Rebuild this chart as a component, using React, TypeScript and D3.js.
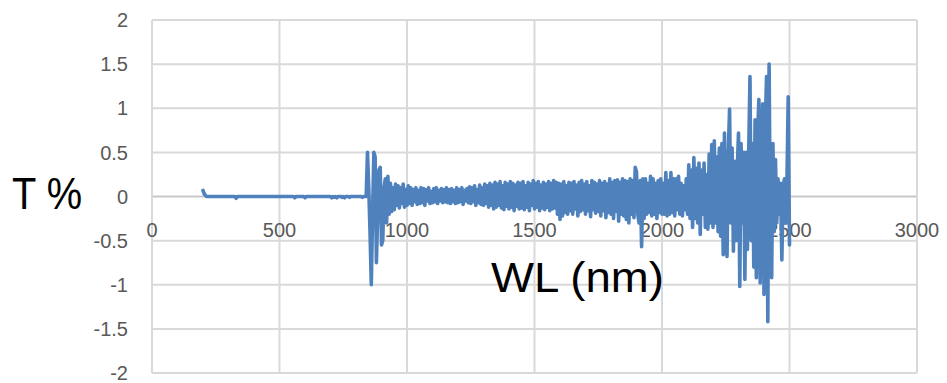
import React from "react";
import * as d3 from "d3";

// Wavelength sampling of the series (nm)
const startWL = 200;
const stepWL = 5;

// T % values, one per 5 nm, from 200 nm to 2500 nm (blocks of 50 nm)
const transmittance: number[] = [
  // 200-245
  0.07, 0.03, 0.01, 0, 0, 0, 0, 0, 0, 0,
  // 250
  0, 0, 0, 0, 0, 0, 0, 0, 0, 0,
  // 300
  0, 0, 0, 0, 0, 0, -0.02, 0, 0, 0,
  // 350
  0, 0, 0, 0, 0, 0, 0, 0, 0, 0,
  // 400
  0, 0, 0, 0, 0, 0, 0, 0, 0, 0,
  // 450
  0, 0, 0, 0, 0, 0, 0, 0, 0, 0,
  // 500
  0, 0, 0, 0, 0, 0, 0, 0, 0, 0,
  // 550
  0, 0, -0.015, 0, 0, 0, 0, 0, 0, 0,
  // 600
  -0.015, 0, 0, 0, 0, 0, 0, 0, 0, 0,
  // 650
  0, 0, 0, 0, 0, 0, 0, 0, 0, 0,
  // 700
  0, -0.015, 0, -0.01, 0, -0.015, 0, 0, 0, -0.01,
  // 750
  0, -0.015, 0, 0, 0, -0.01, 0, 0, 0, 0,
  // 800
  0, 0, 0, 0, 0, -0.01, 0, 0, 0, 0.5,
  // 850
  0.1, -0.4, -1.0, -0.2, 0.5, 0.45, -0.75, -0.2, 0.3, 0.33,
  // 900
  -0.55, -0.5, 0.1, 0.2, -0.3, 0.23, -0.2, 0.15, -0.17, 0.1,
  // 950
  -0.15, 0.14, -0.1, 0.12, -0.13, 0.1, -0.08, 0.14, -0.12, 0.08,
  // 1000
  -0.1, 0.12, -0.08, 0.1, -0.1, 0.08, -0.06, 0.1, -0.09, 0.07,
  // 1050
  -0.08, 0.1, -0.07, 0.09, -0.1, 0.08, -0.05, 0.1, -0.08, 0.06,
  // 1100
  -0.07, 0.09, -0.06, 0.1, -0.08, 0.07, -0.05, 0.09, -0.07, 0.08,
  // 1150
  -0.06, 0.1, -0.07, 0.08, -0.08, 0.09, -0.06, 0.07, -0.08, 0.1,
  // 1200
  -0.07, 0.08, -0.06, 0.1, -0.09, 0.07, -0.05, 0.09, -0.07, 0.11,
  // 1250
  -0.08, 0.1, -0.06, 0.12, -0.1, 0.08, -0.07, 0.13, -0.09, 0.1,
  // 1300
  -0.1, 0.14, -0.08, 0.12, -0.12, 0.15, -0.1, 0.13, -0.14, 0.16,
  // 1350
  -0.12, 0.14, -0.1, 0.17, -0.13, 0.12, -0.15, 0.16, -0.11, 0.14,
  // 1400
  -0.14, 0.17, -0.12, 0.15, -0.16, 0.13, -0.11, 0.16, -0.14, 0.15,
  // 1450
  -0.13, 0.17, -0.15, 0.12, -0.12, 0.16, -0.16, 0.14, -0.1, 0.18,
  // 1500
  -0.14, 0.15, -0.12, 0.17, -0.16, 0.13, -0.13, 0.16, -0.15, 0.14,
  // 1550
  -0.12, 0.17, -0.16, 0.15, -0.14, 0.18, -0.13, 0.16, -0.2, 0.15,
  // 1600
  -0.26, 0.14, -0.22, 0.17, -0.18, 0.12, -0.2, 0.16, -0.16, 0.15,
  // 1650
  -0.2, 0.17, -0.14, 0.13, -0.22, 0.16, -0.17, 0.18, -0.15, 0.14,
  // 1700
  -0.2, 0.17, -0.16, 0.12, -0.23, 0.18, -0.15, 0.16, -0.19, 0.14,
  // 1750
  -0.17, 0.18, -0.22, 0.15, -0.16, 0.17, -0.24, 0.14, -0.18, 0.2,
  // 1800
  -0.2, 0.16, -0.25, 0.18, -0.17, 0.19, -0.28, 0.16, -0.2, 0.2,
  // 1850
  -0.22, 0.18, -0.26, 0.17, -0.3, 0.2, -0.2, 0.18, -0.24, 0.33,
  // 1900
  0.28, -0.2, -0.3, 0.18, -0.57, 0.2, -0.25, 0.2, -0.2, 0.15,
  // 1950
  -0.18, 0.23, -0.22, 0.2, -0.2, 0.15, -0.25, 0.18, -0.18, 0.2,
  // 2000
  -0.2, 0.15, -0.2, 0.27, -0.22, 0.18, -0.2, 0.27, -0.18, 0.2,
  // 2050
  -0.22, 0.2, -0.15, 0.23, -0.2, 0.15, -0.22, 0.12, -0.15, 0.2,
  // 2100
  -0.2, 0.36, -0.25, 0.3, -0.35, 0.44, -0.25, 0.32, -0.3, 0.38,
  // 2150
  -0.43, 0.3, -0.2, 0.38, -0.35, 0.25, -0.37, 0.48, -0.3, 0.59,
  // 2200
  -0.35, 0.63, -0.3, 0.45, -0.4, 0.55, -0.45, 0.6, -0.66, 0.72,
  // 2250
  -0.5, -0.68, 0.5, 0.99, -0.3, 0.55, -0.62, 0.4, -0.5, 0.3,
  // 2300
  0.72, -1.02, 0.6, -0.3, 0.5, -0.94, 0.5, -0.6, 0.48, 1.36,
  // 2350
  -0.5, 0.6, -0.8, 0.87, -0.92, 0.7, 1.1, -0.98, 0.5, 1.05,
  // 2400
  -1.11, 0.8, 1.36, -1.42, 1.5, -0.5, -0.92, 0.6, -0.4, 0.42,
  // 2450
  -0.3, 0.2, -0.2, 0.15, -0.72, 0.1, 0.2, -0.3, 0.17, 1.13,
  // 2500
  -0.55,
];

const xTicks = [0, 500, 1000, 1500, 2000, 2500, 3000];
const yTicks = [-2, -1.5, -1, -0.5, 0, 0.5, 1, 1.5, 2];
const xTitle = "WL (nm)";
const yTitle = "T %";

const W = 947;
const H = 383;

export default function App() {
  const x = d3.scaleLinear().domain([0, 3000]).range([152, 917]);
  const y = d3.scaleLinear().domain([-2, 2]).range([373, 20]);

  const points: [number, number][] = transmittance.map((v, i) => [
    startWL + i * stepWL,
    v,
  ]);
  const line = d3
    .line<[number, number]>()
    .x((d) => x(d[0]))
    .y((d) => y(d[1]));

  const font = "'Liberation Sans', Arial, sans-serif";

  return (
    <svg
      width={W}
      height={H}
      style={{ position: "absolute", left: 0, top: 0, background: "#fff" }}
    >
      <rect x={0} y={0} width={W} height={H} fill="#fff" />
      {/* horizontal gridlines */}
      {yTicks.map((t) => (
        <line
          key={"gy" + t}
          x1={x(0)}
          x2={x(3000)}
          y1={y(t)}
          y2={y(t)}
          stroke={t === 0 ? "#c8c8c8" : "#d9d9d9"}
          strokeWidth={2}
        />
      ))}
      {/* vertical gridlines */}
      {xTicks.map((t) => (
        <line
          key={"gx" + t}
          x1={x(t)}
          x2={x(t)}
          y1={y(2)}
          y2={y(-2)}
          stroke="#d9d9d9"
          strokeWidth={2}
        />
      ))}
      {/* y tick labels */}
      {yTicks.map((t) => (
        <text
          key={"ly" + t}
          x={128}
          y={y(t)}
          dy="0.36em"
          textAnchor="end"
          fontFamily={font}
          fontSize={20}
          fill="#595959"
        >
          {String(t)}
        </text>
      ))}
      {/* x tick labels */}
      {xTicks.map((t) => (
        <text
          key={"lx" + t}
          x={x(t)}
          y={237}
          textAnchor="middle"
          fontFamily={font}
          fontSize={20}
          fill="#595959"
        >
          {String(t)}
        </text>
      ))}
      {/* series */}
      <path
        d={line(points) ?? ""}
        fill="none"
        stroke="#4f81bd"
        strokeWidth={3.6}
        strokeLinejoin="round"
        strokeLinecap="round"
      />
      {/* axis titles */}
      <text
        x={491}
        y={292}
        fontFamily={font}
        fontSize={43}
        fill="#000"
        textLength={173}
        lengthAdjust="spacingAndGlyphs"
      >
        {xTitle}
      </text>
      <text
        x={12}
        y={209}
        fontFamily={font}
        fontSize={44}
        fill="#000"
        textLength={70}
        lengthAdjust="spacingAndGlyphs"
      >
        {yTitle}
      </text>
    </svg>
  );
}
